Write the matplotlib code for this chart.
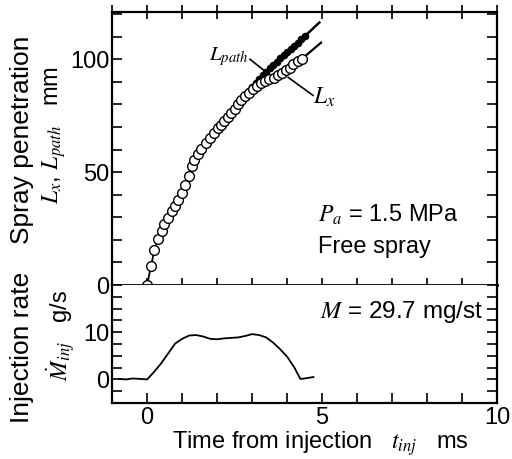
import matplotlib.pyplot as plt
import numpy as np
from matplotlib.ticker import MultipleLocator, FixedLocator

plt.rcParams['font.family'] = ['Liberation Sans', 'DejaVu Sans']
plt.rcParams['mathtext.fontset'] = 'stix'

### DATA ###

# L_x : open circles
lx_t = [0.00, 0.11, 0.21, 0.31, 0.42, 0.49, 0.61, 0.70, 0.80, 0.89, 0.99, 1.09,
        1.19, 1.27, 1.35, 1.45, 1.54, 1.69, 1.81, 1.92, 2.02, 2.11, 2.21, 2.31,
        2.40, 2.50, 2.59, 2.69, 2.80, 2.92, 3.02, 3.14, 3.26, 3.37, 3.49, 3.62,
        3.73, 3.85, 3.97, 4.07, 4.16, 4.30, 4.43]
lx = [0.0, 8.4, 15.6, 20.3, 23.9, 27.1, 29.6, 32.6, 35.1, 37.8, 40.7, 44.4,
      48.1, 52.6, 55.6, 58.2, 60.3, 63.0, 65.2, 67.4, 69.6, 71.1, 72.6, 74.5,
      76.3, 78.1, 80.0, 81.9, 83.7, 85.2, 86.7, 88.1, 89.6, 90.4, 91.1, 91.9,
      92.9, 94.1, 95.3, 96.3, 97.8, 99.3, 100.3]
# straight extension of the L_x line
lx_ext_t = [4.43, 4.97]
lx_ext = [100.3, 107.4]

# L_path : filled dots
lp_t = [2.5, 2.6, 2.7, 2.8, 2.9, 3.0, 3.1, 3.2, 3.3, 3.4, 3.5, 3.6, 3.7, 3.8,
        3.9, 4.0, 4.1, 4.2, 4.3, 4.4, 4.5]
lp = [78.4, 80.5, 82.4, 84.3, 86.1, 87.9, 89.6, 91.3, 92.9, 94.5, 96.0, 97.5,
      99.0, 100.4, 101.8, 103.2, 104.6, 106.0, 107.4, 108.8, 110.2]
lp_line_t = [2.4, 2.5, 3.0, 3.5, 4.0, 4.5, 4.92]
lp_line = [76.3, 78.4, 87.9, 96.0, 103.2, 110.2, 116.3]

# injection rate, g/s
inj_t = [-0.8, -0.6, -0.4, -0.2, 0.0, 0.2, 0.4, 0.6, 0.8, 1.0, 1.2, 1.4, 1.6,
         1.8, 2.0, 2.2, 2.4, 2.6, 2.8, 3.0, 3.2, 3.4, 3.6, 3.8, 4.0, 4.2, 4.3,
         4.38, 4.5, 4.75]
inj = [0.1, 0.0, 0.2, 0.1, 0.0, 1.6, 3.4, 5.5, 7.6, 8.6, 9.3, 9.4, 9.1,
       8.6, 8.5, 8.7, 8.8, 8.9, 9.2, 9.6, 9.4, 8.9, 7.8, 6.4, 4.8, 2.6, 1.2,
       0.1, 0.2, 0.5]

### FIGURE ###
fig = plt.figure(figsize=(5.12, 4.59), dpi=100)
ax1 = fig.add_axes([0.219, 0.379, 0.752, 0.595])
ax2 = fig.add_axes([0.219, 0.122, 0.752, 0.257])

for ax in (ax1, ax2):
    ax.set_xlim(-1, 10)
    for s in ax.spines.values():
        s.set_linewidth(1.6)

# top panel
ax1.plot(lx_t, lx, '-', color='black', lw=1.3, zorder=2)
ax1.plot(lx_ext_t, lx_ext, '-', color='black', lw=1.6)
ax1.plot(lp_line_t, lp_line, '-', color='black', lw=1.8)
ax1.plot(lp_t, lp, 'o', color='black', ms=4.5)
ax1.plot(lx_t, lx, 'o', mfc='white', mec='black', ms=7, mew=1.0, zorder=2.2,
         clip_on=False)

ax1.set_ylim(0, 121)
ax1.yaxis.set_major_locator(FixedLocator([0, 50, 100]))
ax1.yaxis.set_minor_locator(MultipleLocator(10))
ax1.xaxis.set_major_locator(MultipleLocator(1))
ax1.tick_params(axis='x', which='both', direction='inout', length=10, width=1.2,
                top=True, labelbottom=False)
ax1.tick_params(axis='y', which='both', direction='in', length=7, width=1.2,
                right=True, labelsize=17, pad=2)
ax1.spines['bottom'].set_linewidth(2.0)

ax1.text(4.89, 31, r'$P_a$ = 1.5 MPa', fontsize=17, ha='left', va='center')
ax1.text(4.89, 17, 'Free spray', fontsize=17, ha='left', va='center')

ax1.text(2.33, 101.3, r'$L_{path}$', fontsize=15, ha='center', va='center')
ax1.plot([2.94, 3.34], [100.0, 95.1], '-', color='black', lw=1.2)
ax1.text(5.05, 83, r'$L_x$', fontsize=17, ha='center', va='center')
ax1.plot([4.03, 4.74], [92.0, 84.0], '-', color='black', lw=1.2)

# bottom panel
ax2.plot(inj_t, inj, '-', color='black', lw=1.3)
ax2.set_ylim(-5, 20)
ax2.yaxis.set_major_locator(FixedLocator([0, 10]))
ax2.yaxis.set_minor_locator(MultipleLocator(2.5))
ax2.xaxis.set_major_locator(FixedLocator([0, 5, 10]))
ax2.xaxis.set_minor_locator(MultipleLocator(1))
ax2.tick_params(axis='x', which='both', direction='in', length=7, width=1.2,
                labelsize=17, pad=3)
ax2.tick_params(axis='y', which='both', direction='in', length=7, width=1.2,
                right=True, labelsize=17, pad=2)
ax2.spines['top'].set_visible(False)

ax2.text(4.94, 14.3, r'$M$ = 29.7 mg/st', fontsize=17.5, ha='left', va='center')

# axis labels
fig.text(0.043, 0.695, 'Spray penetration', rotation=90, fontsize=19,
         ha='center', va='center')
fig.text(0.105, 0.706, r'$L_x$, $L_{path}$   mm', rotation=90, fontsize=17,
         ha='center', va='center')
fig.text(0.043, 0.244, 'Injection rate', rotation=90, fontsize=19,
         ha='center', va='center')
fig.text(0.118, 0.27, r'$\dot{M}_{inj}$   g/s', rotation=90, fontsize=17,
         ha='center', va='center')
fig.text(0.625, 0.022, r'Time from injection   $t_{inj}$   ms', fontsize=17,
         ha='center', va='baseline')

fig.savefig('out.png', dpi=100)
